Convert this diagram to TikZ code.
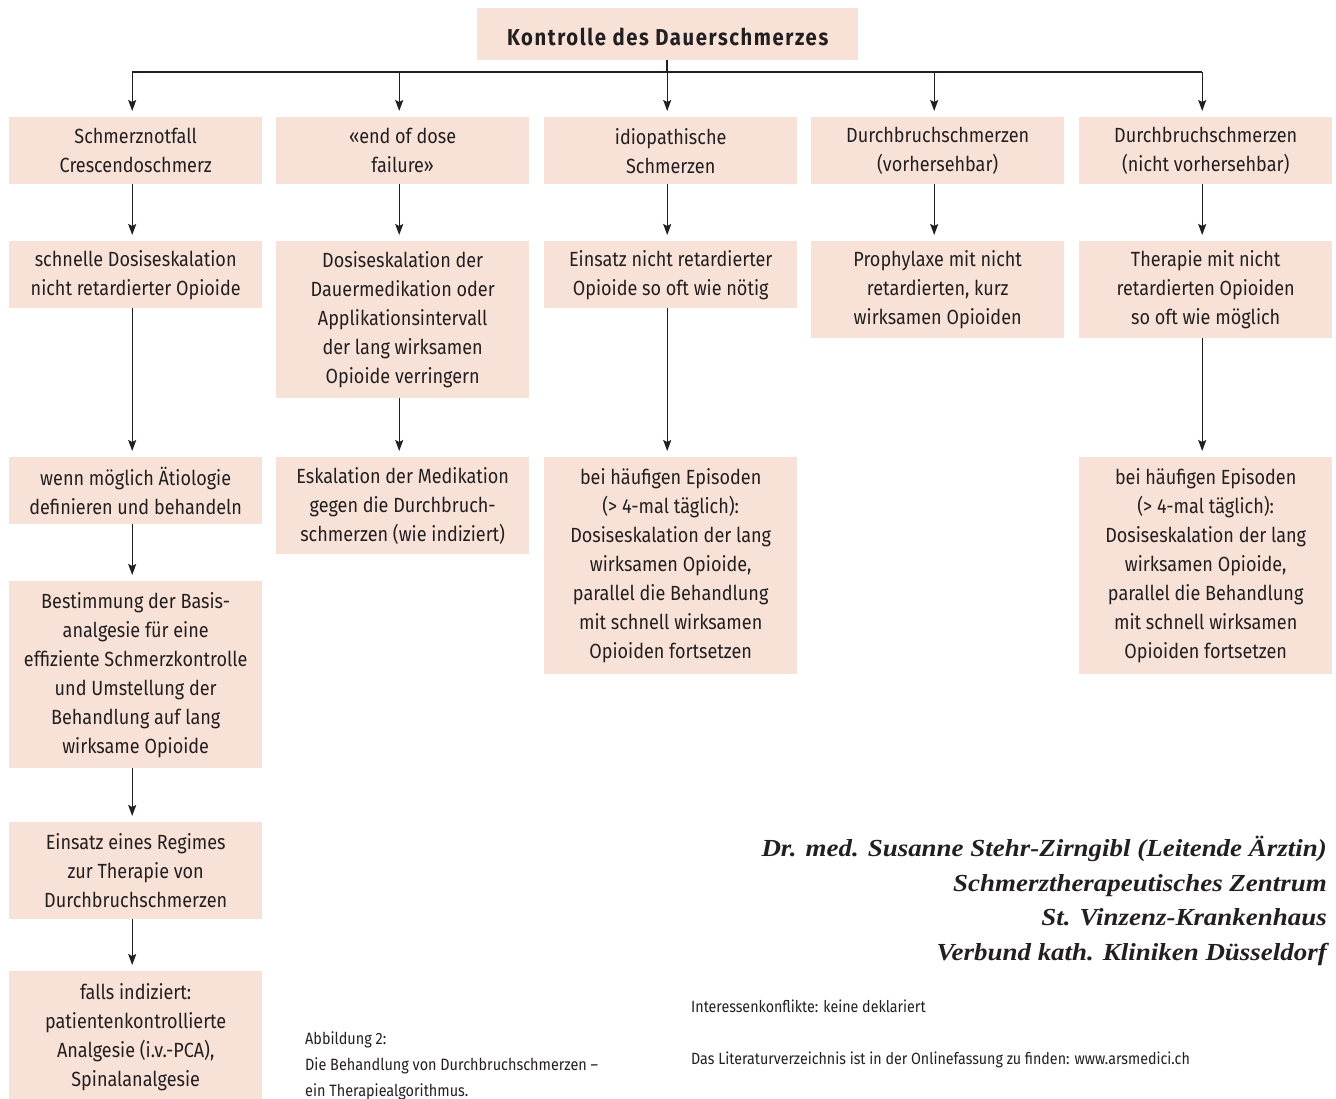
\documentclass[tikz,border=0pt]{standalone}
\usepackage{fontspec}
\setmainfont{Fira Sans}[FakeStretch=0.88]
\newfontfamily\authorfont{Liberation Serif}[FakeStretch=1.1]
\usetikzlibrary{arrows.meta}
\definecolor{boxfill}{RGB}{248,226,216}
\definecolor{txt}{RGB}{35,31,32}
\newcommand{\boxfont}{\fontsize{20.5}{29}\selectfont}
\tikzset{
  fbox/.style={fill=boxfill, inner sep=0pt, minimum width=253pt, align=center,
    font=\boxfont, text=txt, anchor=north west},
  arr/.style={draw=txt, line width=1.4pt, -{Stealth[length=11pt,width=8pt,inset=2pt]}, shorten >=6pt},
  ln/.style={draw=txt, line width=1.4pt},
}
\begin{document}
\begin{tikzpicture}[x=1pt,y=-1pt]
\useasboundingbox (0,0) rectangle (1336,1098);
% top
\node[fbox, minimum width=381pt, minimum height=52pt] (top) at (477,8) {};
\node[inner sep=0pt, text=txt, font=\fontsize{23}{29}\selectfont\bfseries\addfontfeature{LetterSpace=7}] (title) at ([yshift=-2.5pt]top.center) {Kontrolle des Dauerschmerzes};
% row 1
\node[fbox, minimum height=67pt] (a1) at (9,117) {Schmerznotfall\\Crescendoschmerz};
\node[fbox, minimum height=67pt] (b1) at (276,117) {«end of dose\\failure»};
\node[fbox, minimum height=67pt] (c1) at (544,117) {idiopathische\\Schmerzen};
\node[fbox, minimum height=67pt] (d1) at (811,117) {Durchbruchschmerzen\\(vorhersehbar)};
\node[fbox, minimum height=67pt] (e1) at (1079,117) {Durchbruchschmerzen\\(nicht vorhersehbar)};
% row 2
\node[fbox, minimum height=67pt] (a2) at (9,241) {schnelle Dosiseskalation\\nicht retardierter Opioide};
\node[fbox, minimum height=157pt] (b2) at (276,241) {Dosiseskalation der\\Dauermedikation oder\\Applikationsintervall\\der lang wirksamen\\Opioide verringern};
\node[fbox, minimum height=67pt] (c2) at (544,241) {Einsatz nicht retardierter\\Opioide so oft wie nötig};
\node[fbox, minimum height=97pt] (d2) at (811,241) {Prophylaxe mit nicht\\retardierten, kurz\\wirksamen Opioiden};
\node[fbox, minimum height=97pt] (e2) at (1079,241) {Therapie mit nicht\\retardierten Opioiden\\so oft wie möglich};
% row 3
\node[fbox, minimum height=67pt] (a3) at (9,457) {wenn möglich Ätiologie\\definieren und behandeln};
\node[fbox, minimum height=97pt] (b3) at (276,457) {Eskalation der Medikation\\gegen die Durchbruch-\\schmerzen (wie indiziert)};
\node[fbox, minimum height=217pt] (c3) at (544,457) {bei häufigen Episoden\\(> 4-mal täglich):\\Dosiseskalation der lang\\wirksamen Opioide,\\parallel die Behandlung\\mit schnell wirksamen\\Opioiden fortsetzen};
\node[fbox, minimum height=217pt] (e3) at (1079,457) {bei häufigen Episoden\\(> 4-mal täglich):\\Dosiseskalation der lang\\wirksamen Opioide,\\parallel die Behandlung\\mit schnell wirksamen\\Opioiden fortsetzen};
% column 1 continued
\node[fbox, minimum height=187pt] (a4) at (9,581) {Bestimmung der Basis-\\analgesie für eine\\effiziente Schmerzkontrolle\\und Umstellung der\\Behandlung auf lang\\wirksame Opioide};
\node[fbox, minimum height=97pt] (a5) at (9,822) {Einsatz eines Regimes\\zur Therapie von\\Durchbruchschmerzen};
\node[fbox, minimum height=131pt] (a6) at (9,971) {falls indiziert:\\patientenkontrollierte\\Analgesie (i.v.-PCA),\\Spinalanalgesie};
% bus
\coordinate (busM) at (667,72);
\coordinate (busL) at ([xshift=-3.5pt]a1.north |- busM);
\coordinate (busR) at ([xshift=-3.5pt]e1.north |- busM);
\draw[ln] (top.south -| busM) -- (busM);
\draw[ln] (busL) -- (busR);
\foreach \n in {a1,b1,c1,d1,e1}{
  \draw[arr] ([xshift=-3.5pt]\n.north |- busM) -- ([xshift=-3.5pt]\n.north);
}
% vertical arrows
\foreach \u/\v in {a1/a2,a2/a3,a3/a4,a4/a5,a5/a6,b1/b2,b2/b3,c1/c2,c2/c3,d1/d2,e1/e2,e2/e3}{
  \draw[arr] ([xshift=-3.5pt]\u.south) -- ([xshift=-3.5pt]\v.north);
}
% caption
\node[anchor=north west, align=left, inner sep=0pt, text=txt, font=\fontsize{16.4}{26}\selectfont] (cap) at (305,1031) {Abbildung 2:\\Die Behandlung von Durchbruchschmerzen –\\ein Therapiealgorithmus.};
% author
\node[anchor=north east, align=right, inner sep=0pt, text=txt, font=\authorfont\bfseries\itshape\fontsize{24.5}{34.5}\selectfont] (auth) at (1327,836) {Dr. med. Susanne Stehr-Zirngibl (Leitende Ärztin)\\Schmerztherapeutisches Zentrum\\St. Vinzenz-Krankenhaus\\Verbund kath. Kliniken Düsseldorf};
\node[anchor=west, inner sep=0pt, text=txt, font=\fontsize{16.2}{20}\selectfont] (ik) at (691,1006) {Interessenkonflikte: keine deklariert};
\node[anchor=west, inner sep=0pt, text=txt, font=\fontsize{16.2}{20}\selectfont] (lit) at (691,1060) {Das Literaturverzeichnis ist in der Onlinefassung zu finden: www.arsmedici.ch};
\end{tikzpicture}
\end{document}
